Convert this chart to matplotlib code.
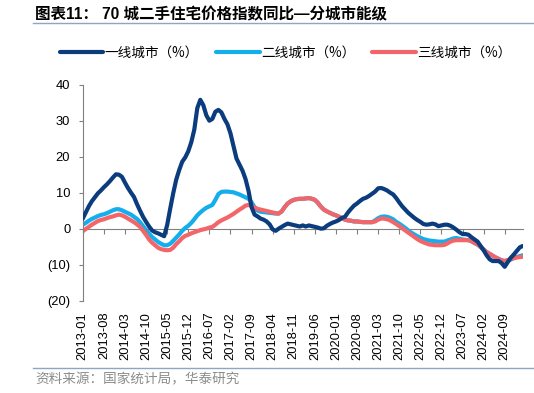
import matplotlib
matplotlib.use("Agg")
import matplotlib.pyplot as plt
from matplotlib.lines import Line2D
import pandas as pd

plt.rcParams['font.family'] = ['Liberation Sans', 'Noto Sans CJK SC', 'DejaVu Sans']

# monthly, 2013-01 .. 2025-03
months = pd.date_range('2013-01', periods=147, freq='MS').strftime('%Y-%m')

tier1 = [2.8, 4.5, 6.2, 7.6, 8.7, 9.8, 10.6, 11.5, 12.3, 13.2,
         14.2, 15.1, 15.0, 14.4, 12.8, 11.3, 10.0, 8.8, 6.8, 5.0,
         3.3, 1.9, 0.6, -0.5, -1.0, -1.3, -1.7, -2.1, 1.0, 5.5,
         9.8, 13.6, 16.3, 18.6, 19.8, 21.5, 24.0, 27.5, 33.5, 35.8,
         34.3, 31.5, 30.0, 30.5, 32.5, 33.0, 32.3, 30.5, 29.0, 26.5,
         23.0, 19.5, 17.8, 16.1, 13.8, 10.5, 6.0, 3.9, 3.4, 2.8,
         2.5, 2.0, 1.2, -0.2, -0.6, 0.0, 0.5, 1.0, 1.4, 1.2,
         1.0, 0.8, 0.6, 0.9, 0.6, 0.9, 0.7, 0.5, 0.3, 0.0,
         0.1, 0.8, 1.3, 1.7, 2.0, 2.4, 3.0, 3.3, 4.5, 5.5,
         6.4, 7.0, 7.7, 8.3, 8.6, 9.1, 9.7, 10.3, 11.2, 11.3,
         11.0, 10.6, 10.0, 9.5, 8.5, 7.3, 6.2, 5.3, 4.4, 3.7,
         3.0, 2.4, 1.9, 1.3, 1.1, 1.2, 1.4, 1.2, 0.7, 0.9,
         1.1, 1.1, 0.8, 0.3, -0.3, -1.0, -1.5, -1.5, -1.7, -2.4,
         -3.0, -3.6, -4.8, -6.0, -7.4, -8.5, -9.0, -9.0, -9.0, -9.6,
         -10.6, -9.3, -8.1, -7.2, -6.2, -5.2, -4.8]

tier2 = [1.1, 1.6, 2.2, 2.7, 3.1, 3.5, 3.8, 4.0, 4.3, 4.7,
         5.1, 5.4, 5.4, 5.1, 4.7, 4.3, 3.9, 3.3, 2.7, 1.8,
         0.7, -0.4, -1.4, -2.3, -3.0, -3.7, -4.2, -4.6, -4.6, -4.2,
         -3.4, -2.5, -1.6, -0.6, 0.2, 0.8, 1.6, 2.6, 3.7, 4.5,
         5.2, 5.8, 6.2, 6.6, 8.0, 9.6, 10.2, 10.3, 10.3, 10.2,
         10.1, 9.8, 9.5, 9.1, 8.7, 8.3, 7.3, 6.0, 5.0, 4.7,
         4.6, 4.5, 4.4, 4.3, 4.2, 4.2, 4.8, 6.0, 7.0, 7.6,
         8.0, 8.2, 8.3, 8.3, 8.4, 8.5, 8.3, 8.0, 7.2, 6.1,
         5.3, 4.8, 4.4, 4.0, 3.7, 3.3, 2.9, 2.5, 2.3, 2.2,
         2.0, 2.0, 1.9, 1.8, 1.8, 1.8, 1.8, 2.3, 2.9, 3.3,
         3.4, 3.3, 3.0, 2.6, 1.9, 1.4, 0.8, 0.2, -0.5, -1.1,
         -1.6, -2.1, -2.5, -2.9, -3.1, -3.3, -3.4, -3.5, -3.6, -3.6,
         -3.6, -3.3, -3.0, -2.7, -2.6, -2.8, -3.0, -3.1, -3.2, -3.5,
         -4.0, -4.4, -5.1, -5.8, -6.5, -7.0, -7.5, -8.0, -8.4, -8.8,
         -9.0, -8.8, -8.6, -8.2, -7.9, -7.6, -7.4]

tier3 = [-0.7, -0.1, 0.5, 1.1, 1.6, 2.1, 2.4, 2.6, 2.9, 3.2,
         3.4, 3.7, 3.9, 3.7, 3.3, 2.8, 2.3, 1.8, 1.2, 0.5,
         -0.6, -1.7, -3.0, -3.9, -4.6, -5.3, -5.7, -5.9, -6.0, -5.9,
         -5.3, -4.3, -3.5, -2.6, -2.0, -1.7, -1.3, -1.0, -0.7, -0.4,
         -0.2, 0.0, 0.3, 0.5, 1.1, 1.8, 2.3, 2.7, 3.1, 3.6,
         4.1, 4.7, 5.3, 5.8, 6.4, 6.6, 6.3, 5.9, 5.5, 5.3,
         5.1, 4.9, 4.7, 4.5, 4.3, 4.2, 4.8, 6.0, 7.0, 7.6,
         8.0, 8.2, 8.3, 8.3, 8.4, 8.5, 8.3, 8.0, 7.2, 6.1,
         5.3, 4.8, 4.4, 4.0, 3.7, 3.3, 2.9, 2.5, 2.3, 2.2,
         2.0, 2.0, 1.9, 1.8, 1.8, 1.8, 1.8, 2.0, 2.5, 2.8,
         2.8, 2.6, 2.3, 1.8, 1.3, 0.7, 0.1, -0.5, -1.1, -1.7,
         -2.3, -2.9, -3.4, -3.8, -4.1, -4.4, -4.5, -4.6, -4.6, -4.6,
         -4.5, -4.1, -3.6, -3.3, -3.2, -3.2, -3.2, -3.2, -3.2, -3.5,
         -4.0, -4.4, -5.1, -5.8, -6.5, -7.0, -7.5, -8.0, -8.4, -8.8,
         -9.0, -8.7, -8.4, -8.2, -8.0, -7.9, -7.8]

series_names = ['一线城市（%）', '二线城市（%）', '三线城市（%）']
colors = ['#0B3C7D', '#14AEEC', '#F2666A']
yticks = [-20, -10, 0, 10, 20, 30, 40]
ytick_labels = ['(20)', '(10)', '0', '10', '20', '30', '40']

x = list(range(len(months)))
tick_pos = x[::7]
tick_lab = list(months[::7])

fig = plt.figure(figsize=(5.34, 3.93), dpi=100)
ax = fig.add_axes([0.155, 0.235, 0.824, 0.5495])

# tier 1 on top, tier 3 above tier 2
for vals, name, c, z in zip([tier1, tier2, tier3], series_names, colors, [3, 1, 2]):
    ax.plot(x, vals, color=c, lw=3.0, label=name, zorder=z, solid_capstyle='round')

ax.set_xlim(0, len(x) - 1)
ax.set_ylim(-20, 40)
ax.set_yticks(yticks, ytick_labels)
ax.tick_params(axis='y', length=3, width=0.8, color='#808080', pad=6, labelsize=9.3)

for s in ['top', 'right']:
    ax.spines[s].set_visible(False)
ax.spines['left'].set_color('#808080')
ax.spines['bottom'].set_color('#808080')
ax.spines['bottom'].set_position(('data', 0))
ax.spines['bottom'].set_zorder(0)
ax.set_xticks(tick_pos)
ax.tick_params(axis='x', length=3.5, width=0.8, color='#808080', labelbottom=False)

lab = ax.secondary_xaxis('bottom')
lab.set_xticks(tick_pos, tick_lab, rotation=90)
lab.tick_params(length=0, pad=8, labelsize=9.3)
lab.spines['bottom'].set_visible(False)

fig.legend(loc='center left', bbox_to_anchor=(0.112, 0.865), ncol=3, frameon=False,
           handlelength=3.2, handletextpad=0.1, columnspacing=1.25,
           borderaxespad=0, borderpad=0,
           prop={'family': 'Noto Sans CJK SC', 'size': 9.8})

fig.text(0.066, 0.962, '图表11： 70 城二手住宅价格指数同比—分城市能级',
         fontsize=11.2, fontweight='bold', va='center', ha='left')
fig.add_artist(Line2D([0.062, 1.0], [0.941, 0.941], color='#8EA6C4', lw=1.0))
fig.add_artist(Line2D([0.062, 1.0], [0.063, 0.063], color='#8EA6C4', lw=1.0))
fig.text(0.066, 0.035, '资料来源：国家统计局，华泰研究', fontsize=9.8, color='#8C8C8C',
         family='Noto Sans CJK SC', va='center', ha='left')

fig.savefig('out.png', dpi=100)
